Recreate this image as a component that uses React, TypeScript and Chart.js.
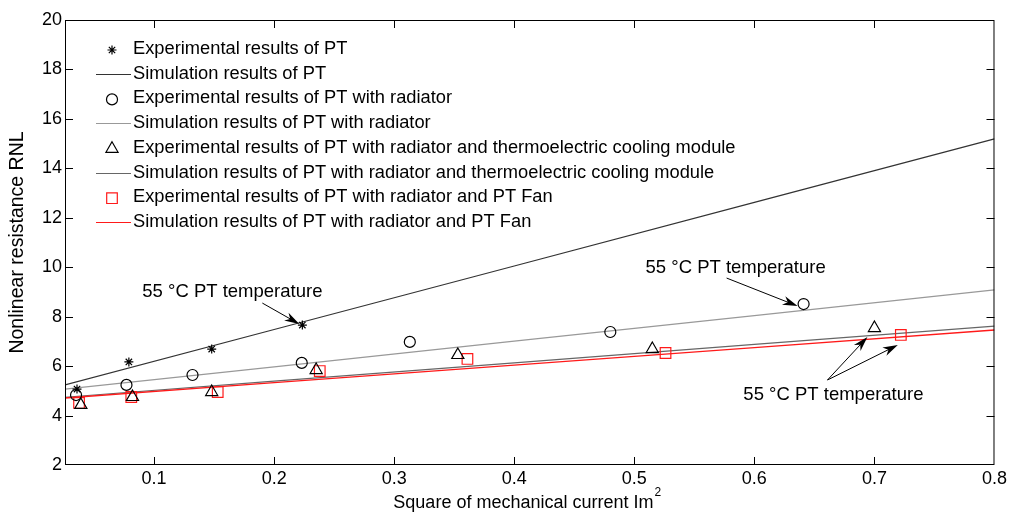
import React, { useEffect, useRef } from "react";
import { Chart, registerables } from "chart.js";

Chart.register(...registerables);

// ---- data ----
const ptX = [0.0358, 0.079, 0.148, 0.2235];
const ptY = [5.07, 6.17, 6.69, 7.66];
const radX = [0.035, 0.077, 0.132, 0.223, 0.313, 0.48, 0.641];
const radY = [4.83, 5.24, 5.64, 6.13, 6.98, 7.38, 8.51];
const tecX = [0.039, 0.082, 0.148, 0.235, 0.353, 0.515, 0.7];
const tecY = [4.43, 4.75, 4.95, 5.84, 6.45, 6.69, 7.54];
const fanX = [0.0375, 0.081, 0.153, 0.238, 0.361, 0.526, 0.722];
const fanY = [4.51, 4.75, 4.95, 5.8, 6.29, 6.53, 7.26];

const simX = [0.0258, 0.2, 0.4, 0.6, 0.8];
const simPT = [5.24, 7.48, 10.05, 12.62, 15.19];
const simRad = [5.07, 5.97, 7.01, 8.04, 9.08];
const simTec = [4.74, 5.39, 6.13, 6.88, 7.62];
const simFan = [4.71, 5.33, 6.04, 6.75, 7.46];

const xTicks = [0.1, 0.2, 0.3, 0.4, 0.5, 0.6, 0.7, 0.8];
const yTicks = [2, 4, 6, 8, 10, 12, 14, 16, 18, 20];

const legendLabels = [
  "Experimental results of PT",
  "Simulation results of PT",
  "Experimental results of PT with radiator",
  "Simulation results of PT with radiator",
  "Experimental results of PT with radiator and thermoelectric cooling module",
  "Simulation results of PT with radiator and thermoelectric cooling module",
  "Experimental results of PT with radiator and PT Fan",
  "Simulation results of PT with radiator and PT Fan",
];
const annotationText = "55 \u00B0C PT temperature";
const xTitle = "Square of mechanical current Im";
const xTitleSup = "2";
const yTitle = "Nonlinear resistance RNL";

const FONT = "'Liberation Sans', Arial, Helvetica, sans-serif";
const RED = "#ff1a1a";

const pts = (xs: number[], ys: number[]) => xs.map((x, i) => ({ x, y: ys[i] }));

function drawMarker(ctx: CanvasRenderingContext2D, style: string, x: number, y: number, color: string) {
  ctx.save();
  ctx.strokeStyle = color;
  ctx.lineWidth = 1.2;
  ctx.beginPath();
  if (style === "star") {
    const r = 4.5;
    ctx.moveTo(x - r, y); ctx.lineTo(x + r, y);
    ctx.moveTo(x, y - r); ctx.lineTo(x, y + r);
    const d = r * Math.SQRT1_2;
    ctx.moveTo(x - d, y - d); ctx.lineTo(x + d, y + d);
    ctx.moveTo(x - d, y + d); ctx.lineTo(x + d, y - d);
  } else if (style === "circle") {
    ctx.arc(x, y, 5.5, 0, Math.PI * 2);
  } else if (style === "triangle") {
    const r = 7;
    ctx.moveTo(x, y - r);
    ctx.lineTo(x + r * Math.sin(Math.PI * 2 / 3), y - r * Math.cos(Math.PI * 2 / 3));
    ctx.lineTo(x + r * Math.sin(Math.PI * 4 / 3), y - r * Math.cos(Math.PI * 4 / 3));
    ctx.closePath();
  } else if (style === "rect") {
    const s = 7.5 * Math.SQRT1_2;
    ctx.rect(x - s, y - s, 2 * s, 2 * s);
  }
  ctx.stroke();
  ctx.restore();
}

function drawArrow(ctx: CanvasRenderingContext2D, x1: number, y1: number, x2: number, y2: number) {
  const ang = Math.atan2(y2 - y1, x2 - x1);
  const len = 15, hw = 4.5;
  ctx.save();
  ctx.strokeStyle = "#000";
  ctx.fillStyle = "#000";
  ctx.lineWidth = 1;
  ctx.beginPath();
  ctx.moveTo(x1, y1);
  ctx.lineTo(x2 - Math.cos(ang) * len * 0.6, y2 - Math.sin(ang) * len * 0.6);
  ctx.stroke();
  const bx = x2 - Math.cos(ang) * len, by = y2 - Math.sin(ang) * len;
  const mx = x2 - Math.cos(ang) * len * 0.7, my = y2 - Math.sin(ang) * len * 0.7;
  ctx.beginPath();
  ctx.moveTo(x2, y2);
  ctx.lineTo(bx + Math.sin(ang) * hw, by - Math.cos(ang) * hw);
  ctx.lineTo(mx, my);
  ctx.lineTo(bx - Math.sin(ang) * hw, by + Math.cos(ang) * hw);
  ctx.closePath();
  ctx.fill();
  ctx.restore();
}

const overlay = {
  id: "overlay",
  afterDatasetsDraw(chart: any) {
    const { ctx, chartArea: a, scales } = chart;
    const xs = scales.x, ys = scales.y;
    ctx.save();
    // box
    ctx.strokeStyle = "#000";
    ctx.lineWidth = 1;
    ctx.strokeRect(a.left + 0.5, a.top + 0.5, a.right - a.left - 1, a.bottom - a.top - 1);
    // inward ticks
    ctx.beginPath();
    const tl = 8;
    xTicks.forEach((v) => {
      const px = Math.round(xs.getPixelForValue(v)) + 0.5;
      if (px > a.right - 2) return;
      ctx.moveTo(px, a.bottom); ctx.lineTo(px, a.bottom - tl);
      ctx.moveTo(px, a.top); ctx.lineTo(px, a.top + tl);
    });
    yTicks.forEach((v) => {
      const py = Math.round(ys.getPixelForValue(v)) + 0.5;
      if (py > a.bottom - 2 || py < a.top + 2) return;
      ctx.moveTo(a.left, py); ctx.lineTo(a.left + tl, py);
      ctx.moveTo(a.right, py); ctx.lineTo(a.right - tl, py);
    });
    ctx.stroke();

    // axis titles
    ctx.fillStyle = "#000";
    ctx.font = `19.5px ${FONT}`;
    ctx.textAlign = "center";
    ctx.textBaseline = "middle";
    ctx.save();
    ctx.translate(18, (a.top + a.bottom) / 2);
    ctx.rotate(-Math.PI / 2);
    ctx.fillText(yTitle, 0, 0);
    ctx.restore();

    ctx.textAlign = "left";
    ctx.textBaseline = "alphabetic";
    ctx.font = `18px ${FONT}`;
    const w1 = ctx.measureText(xTitle).width;
    ctx.font = `12px ${FONT}`;
    const w2 = ctx.measureText(xTitleSup).width;
    const sx = (a.left + a.right) / 2 - 3 - (w1 + w2) / 2;
    ctx.font = `18px ${FONT}`;
    ctx.fillText(xTitle, sx, 508);
    ctx.font = `12px ${FONT}`;
    ctx.fillText(xTitleSup, sx + w1 + 1, 496);

    // legend
    const styles = [
      { m: "star", c: "#000" },
      { l: "#333" },
      { m: "circle", c: "#000" },
      { l: "#999" },
      { m: "triangle", c: "#000" },
      { l: "#666" },
      { m: "rect", c: RED },
      { l: RED },
    ];
    ctx.font = `18.3px ${FONT}`;
    ctx.fillStyle = "#000";
    ctx.textBaseline = "middle";
    ctx.textAlign = "left";
    legendLabels.forEach((t, i) => {
      const y = 49 + i * 24.7;
      const s: any = styles[i];
      if (s.m) drawMarker(ctx, s.m, 112, y + 1, s.c);
      else {
        ctx.save();
        ctx.strokeStyle = s.l;
        ctx.lineWidth = 1.2;
        ctx.beginPath();
        ctx.moveTo(96, Math.round(y) + 0.5);
        ctx.lineTo(131, Math.round(y) + 0.5);
        ctx.stroke();
        ctx.restore();
      }
      ctx.fillText(t, 133, y);
    });

    // annotations
    ctx.font = `18.5px ${FONT}`;
    ctx.textAlign = "center";
    const p1x = xs.getPixelForValue(ptX[3]), p1y = ys.getPixelForValue(ptY[3]);
    ctx.fillText(annotationText, p1x - 70, p1y - 33);
    drawArrow(ctx, p1x - 40, p1y - 22, p1x - 3, p1y - 1);

    const p2x = xs.getPixelForValue(radX[6]), p2y = ys.getPixelForValue(radY[6]);
    ctx.fillText(annotationText, p2x - 68, p2y - 36);
    drawArrow(ctx, p2x - 77, p2y - 26, p2x - 6, p2y + 2);

    const p3x = xs.getPixelForValue(tecX[6]), p3y = ys.getPixelForValue(tecY[6]);
    const p4x = xs.getPixelForValue(fanX[6]), p4y = ys.getPixelForValue(fanY[6]);
    ctx.fillText(annotationText, p3x - 41, p3y + 67);
    drawArrow(ctx, p3x - 47, p3y + 52, p3x - 7, p3y + 9);
    drawArrow(ctx, p3x - 47, p3y + 52, p4x - 3, p4y + 10);
    ctx.restore();
  },
};

export default function App() {
  const ref = useRef<HTMLCanvasElement | null>(null);
  useEffect(() => {
    if (!ref.current) return;
    const mk = (style: string, color: string, r: number) => ({
      showLine: false,
      pointStyle: style,
      pointRadius: r,
      pointBorderColor: color,
      pointBackgroundColor: "rgba(0,0,0,0)",
      pointBorderWidth: 1.2,
      borderColor: color,
    });
    const ln = (color: string, w: number) => ({
      showLine: true,
      pointRadius: 0,
      borderColor: color,
      borderWidth: w,
      fill: false,
    });
    const chart = new Chart(ref.current, {
      type: "scatter",
      data: {
        datasets: [
          { data: pts(ptX, ptY), ...mk("star", "#000", 4.5) },
          { data: pts(radX, radY), ...mk("circle", "#000", 5.5) },
          { data: pts(tecX, tecY), ...mk("triangle", "#000", 7) },
          { data: pts(fanX, fanY), ...mk("rect", RED, 7.5) },
          { data: pts(simX, simFan), ...ln(RED, 1.3) },
          { data: pts(simX, simTec), ...ln("#666", 1.2) },
          { data: pts(simX, simRad), ...ln("#999", 1.2) },
          { data: pts(simX, simPT), ...ln("#333", 1.2) },
        ] as any,
      },
      options: {
        animation: false,
        responsive: false,
        maintainAspectRatio: false,
        layout: { padding: { top: 20, right: 15, left: 0, bottom: 0 } },
        plugins: { legend: { display: false }, tooltip: { enabled: false } },
        scales: {
          x: {
            type: "linear",
            min: 0.0258,
            max: 0.8,
            grid: { display: false, drawTicks: false },
            border: { display: false },
            afterBuildTicks: (s: any) => { s.ticks = xTicks.map((v) => ({ value: v })); },
            afterFit: (s: any) => { s.height = 51; },
            ticks: {
              color: "#000",
              font: { family: FONT, size: 18 },
              padding: 3,
              maxRotation: 0,
              autoSkip: false,
              callback: (v: any) => String(v),
            },
          },
          y: {
            type: "linear",
            min: 2,
            max: 20,
            grid: { display: false, drawTicks: false },
            border: { display: false },
            afterBuildTicks: (s: any) => { s.ticks = yTicks.map((v) => ({ value: v })); },
            afterFit: (s: any) => { s.width = 65; },
            ticks: {
              color: "#000",
              font: { family: FONT, size: 18 },
              padding: 3,
              autoSkip: false,
            },
          },
        },
      },
      plugins: [overlay],
    } as any);
    return () => chart.destroy();
  }, []);
  return (
    <div style={{ position: "absolute", left: 0, top: 0, width: 1010, height: 516, background: "#fff" }}>
      <canvas ref={ref} width={1010} height={516} style={{ width: 1010, height: 516, display: "block" }} />
    </div>
  );
}
